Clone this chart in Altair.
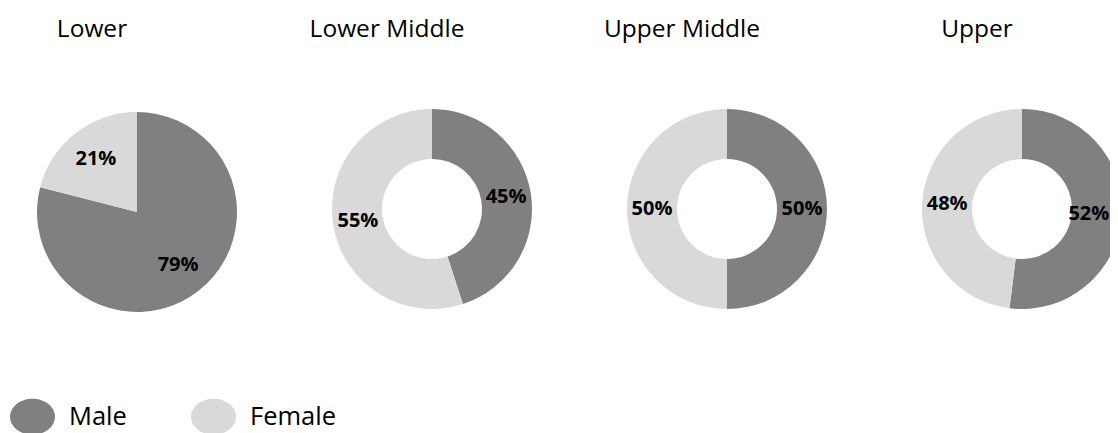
import math
import altair as alt
import pandas as pd

groups = ["Lower", "Lower Middle", "Upper Middle", "Upper"]
male = [79, 45, 50, 52]
female = [21, 55, 50, 48]
genders = ["Male", "Female"]
colors = ["#808080", "#d9d9d9"]

rows = []
for g, m, f in zip(groups, male, female):
    start = 0
    for gen, v in zip(genders, [m, f]):
        rows.append({"group": g, "gender": gen, "value": v,
                     "start": start, "end": start + v,
                     "mid": start + v / 2, "label": f"{v}%"})
        start += v
df = pd.DataFrame(rows)
titles = pd.DataFrame({"group": groups})

FONT = "Open Sans"
xenc = alt.X("group:N", scale=alt.Scale(type="point", domain=groups, range=[129, 1014], padding=0), axis=None)
tscale = alt.Scale(domain=[0, 100], range=[0, 2 * math.pi])

ellipse = "M-1,0A1,0.8,0,1,1,1,0A1,0.8,0,1,1,-1,0Z"
color = alt.Color("gender:N",
                  scale=alt.Scale(domain=genders, range=colors),
                  legend=alt.Legend(orient="none", legendX=2, legendY=386, direction="horizontal",
                                    title=None, symbolType=ellipse, symbolSize=2025,
                                    symbolStrokeWidth=0, symbolOpacity=1,
                                    labelFont=FONT, labelFontSize=25.5, labelColor="#000000",
                                    labelOffset=14, columnPadding=64, padding=0))

base = alt.Chart(df)
pie = base.transform_filter(alt.datum.group == "Lower")
donut = base.transform_filter(alt.datum.group != "Lower")
edge_cond = (alt.datum.group == "Upper") & (alt.datum.gender == "Male")

pie_arc = pie.mark_arc(outerRadius=100, innerRadius=0, strokeWidth=0).encode(
    x=xenc, y=alt.value(204),
    theta=alt.Theta("start:Q", stack=None, scale=tscale), theta2="end:Q", color=color)
donut_arc = donut.mark_arc(outerRadius=100, innerRadius=50, strokeWidth=0).encode(
    x=xenc, y=alt.value(201),
    theta=alt.Theta("start:Q", stack=None, scale=tscale), theta2="end:Q", color=color)

lbl = dict(font=FONT, fontSize=20, fontWeight="bold", color="#000000", baseline="middle", align="center")
pie_txt = pie.mark_text(radius=67, **lbl).encode(
    x=xenc, y=alt.value(204), theta=alt.Theta("mid:Q", stack=None, scale=tscale), text="label:N")
donut_txt = donut.transform_filter(~edge_cond).mark_text(radius=75, **lbl).encode(
    x=xenc, y=alt.value(201), theta=alt.Theta("mid:Q", stack=None, scale=tscale), text="label:N")
edge_txt = donut.transform_filter(edge_cond).mark_text(radius=75, dx=-8, **lbl).encode(
    x=xenc, y=alt.value(201), theta=alt.Theta("mid:Q", stack=None, scale=tscale), text="label:N")

title_txt = alt.Chart(titles).mark_text(font=FONT, fontSize=24.5, color="#000000", dx=-45,
                                        baseline="alphabetic", align="center").encode(
    x=xenc, y=alt.value(29), text="group:N")

chart = alt.layer(pie_arc, donut_arc, pie_txt, donut_txt, edge_txt, title_txt).properties(
    width=1102, height=425, padding=0, autosize=alt.AutoSizeParams(type="none")
).configure_view(stroke=None)

chart.save("out.html", embed_options={"renderer": "svg", "actions": False})
